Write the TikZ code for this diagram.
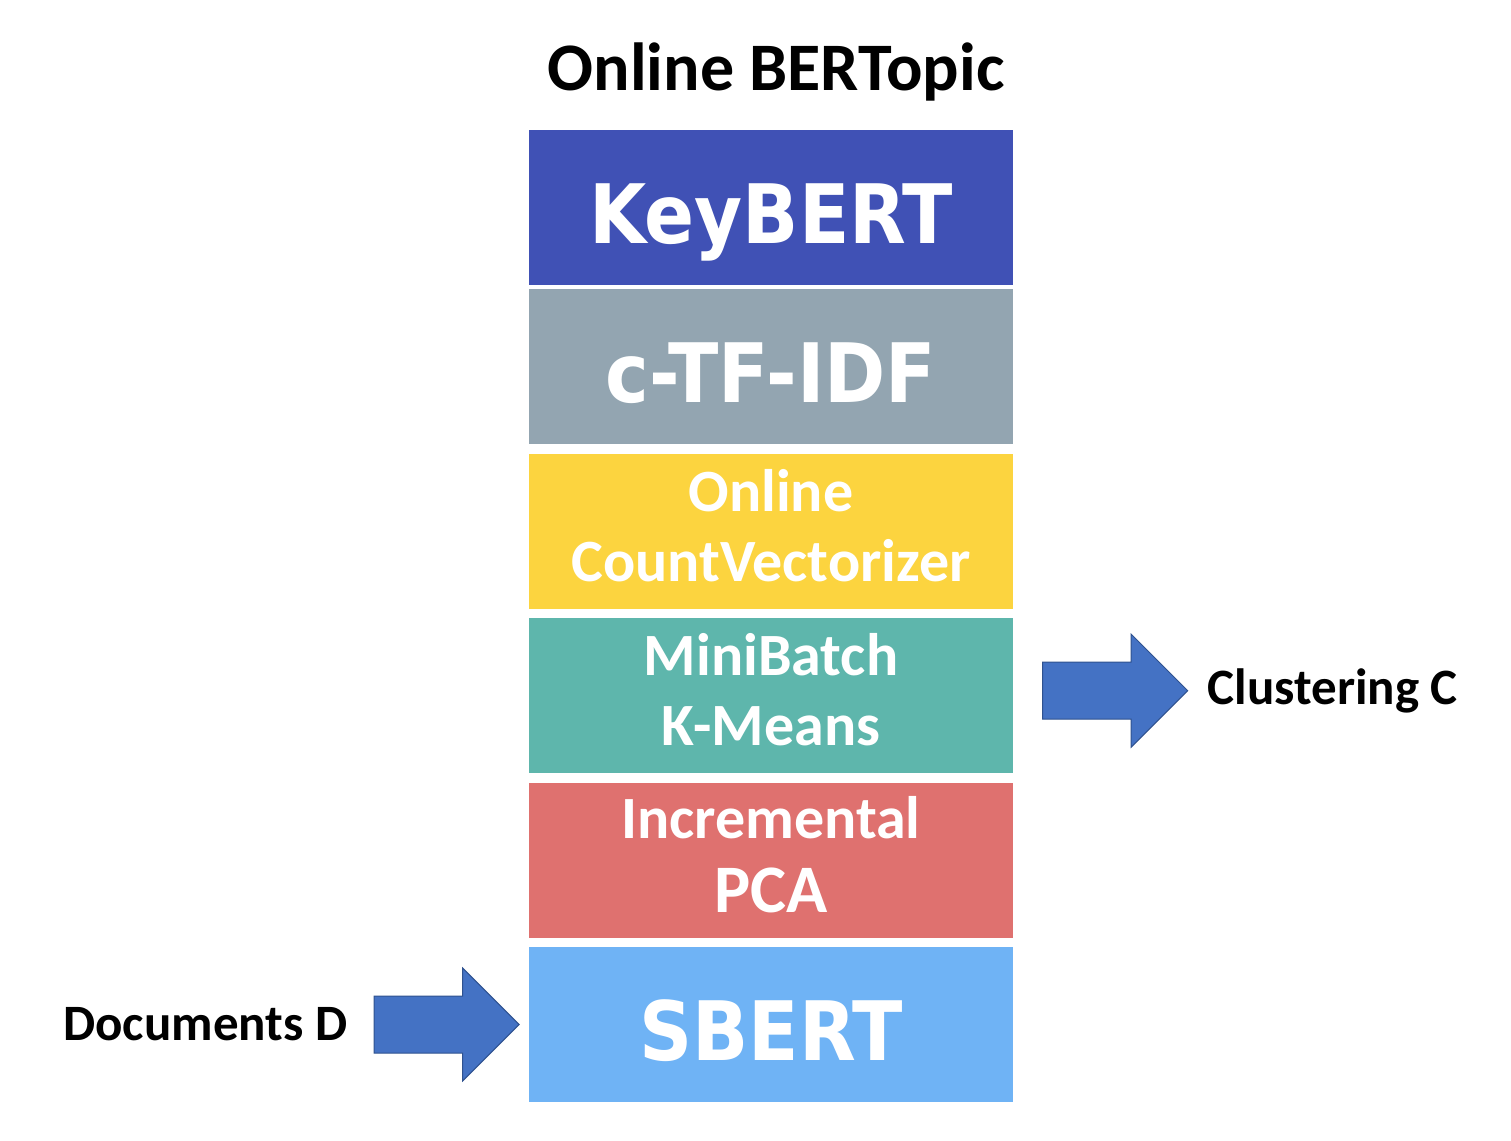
\documentclass[tikz,border=0pt]{standalone}
\usepackage{fontspec}
\setmainfont{Carlito}
\newfontfamily\widebold{DejaVu Sans Condensed}[BoldFont={DejaVu Sans Condensed Bold}]
\usetikzlibrary{positioning, shapes.arrows}
\definecolor{keyblue}{HTML}{4051B5}
\definecolor{tfgrey}{HTML}{93A5B1}
\definecolor{cvyellow}{HTML}{FCD43F}
\definecolor{kmteal}{HTML}{5EB6AC}
\definecolor{pcared}{HTML}{DF716F}
\definecolor{sbblue}{HTML}{6FB3F5}
\definecolor{arrowblue}{HTML}{4472C4}
\definecolor{arrowedge}{HTML}{2F528F}
\tikzstyle{layer} = [rectangle, minimum width=484pt, minimum height=155pt, inner sep=0pt, text=white, align=center]
\tikzstyle{big-layer} = [layer, font=\widebold\bfseries\fontsize{82}{90}\selectfont, text height=71pt, text depth=0pt]
\tikzstyle{small-layer} = [layer, font=\bfseries\fontsize{60}{70}\selectfont, text depth=12pt]
\tikzstyle{side-name} = [rectangle, draw=none, inner sep=0pt, font=\bfseries\fontsize{51}{55}\selectfont]
\tikzstyle{block-arrow} = [single arrow, fill=arrowblue, draw=arrowedge, line width=1pt, minimum height=145pt, inner xsep=0pt, inner ysep=28pt, single arrow head extend=28pt, single arrow tip angle=90]

\begin{document}
\begin{tikzpicture}[x=1pt, y=-1pt]
    \useasboundingbox (0,0) rectangle (1511,1140);
    \node (title) [side-name, font=\bfseries\fontsize{68}{70}\selectfont] at (776,72) {Online BERTopic};

    \node (keybert) [big-layer, fill=keyblue] at (771,207.5) {KeyBERT};
    \node (ctfidf) [big-layer, fill=tfgrey, below = 4pt of keybert] {c-TF-IDF};
    \node (countvec) [small-layer, fill=cvyellow, below = 9pt of ctfidf] {Online\\CountVectorizer};
    \node (kmeans) [small-layer, fill=kmteal, below = 9pt of countvec] {MiniBatch\\K-Means};
    \node (pca) [small-layer, fill=pcared, below = 9pt of kmeans] {Incremental\\[4pt]{\fontsize{68}{70}\selectfont PCA}};
    \node (sbert) [big-layer, fill=sbblue, below = 9pt of pca] {SBERT};

    \node (docarrow) [block-arrow, left = 9pt of sbert] {};
    \node (docs) [side-name, left = 26pt of docarrow] {Documents D};

    \node (clusarrow) [block-arrow, right = 29pt of kmeans, yshift=5pt] {};
    \node (clus) [side-name, right = 19pt of clusarrow] {Clustering C};
\end{tikzpicture}
\end{document}
